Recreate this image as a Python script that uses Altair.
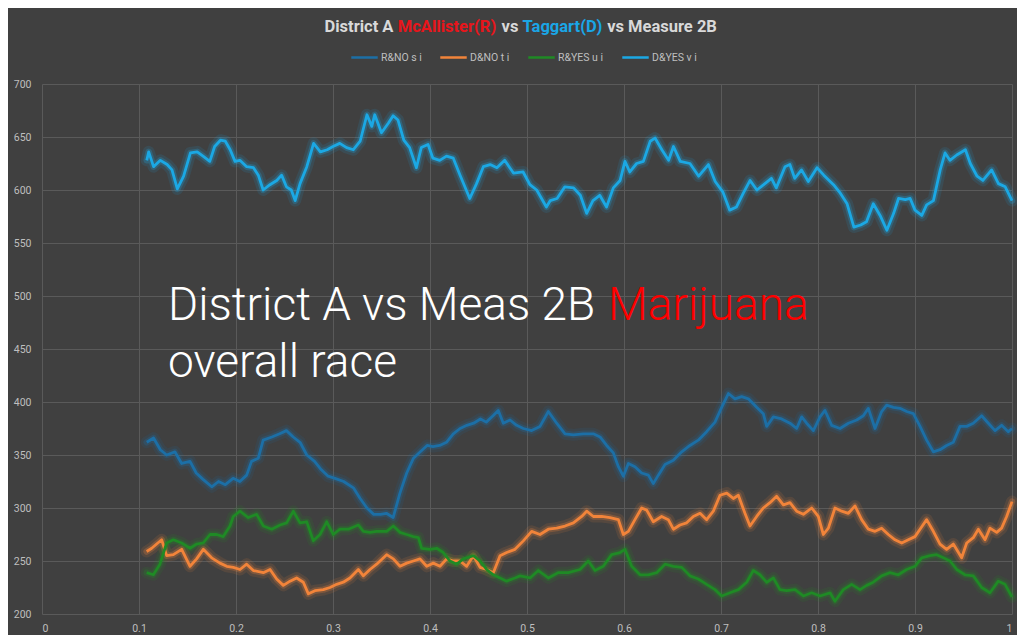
import altair as alt
import pandas as pd

# ---------------- data ----------------
SERIES = ["R&NO s i", "D&NO t i", "R&YES u i", "D&YES v i"]
COLORS = ["#1c6fa6", "#f2843a", "#1f8a25", "#1ba8e4"]

DYES_X = [0.108, 0.110, 0.115, 0.122, 0.129, 0.134, 0.1395, 0.146, 0.153, 0.160, 0.166, 0.173, 0.178, 0.184,
          0.189, 0.194, 0.199, 0.204, 0.211, 0.218, 0.223, 0.228, 0.235, 0.242, 0.247, 0.252, 0.257, 0.261,
          0.266, 0.273, 0.280, 0.287, 0.294, 0.300, 0.307, 0.314, 0.321, 0.328, 0.335, 0.340, 0.343, 0.350,
          0.357, 0.362, 0.367, 0.373, 0.379, 0.386, 0.391, 0.398, 0.403, 0.410, 0.417, 0.424, 0.431, 0.441,
          0.448, 0.455, 0.462, 0.469, 0.477, 0.486, 0.496, 0.503, 0.510, 0.520, 0.524, 0.531, 0.539, 0.548,
          0.555, 0.5615, 0.568, 0.575, 0.582, 0.589, 0.596, 0.601, 0.606, 0.613, 0.620, 0.627, 0.632, 0.639,
          0.646, 0.651, 0.658, 0.668, 0.677, 0.687, 0.694, 0.702, 0.709, 0.716, 0.723, 0.730, 0.737, 0.744,
          0.752, 0.757, 0.766, 0.771, 0.776, 0.783, 0.790, 0.799, 0.806, 0.816, 0.823, 0.830, 0.837, 0.844,
          0.850, 0.857, 0.864, 0.871, 0.878, 0.883, 0.890, 0.895, 0.900, 0.907, 0.912, 0.919, 0.926, 0.931,
          0.936, 0.943, 0.952, 0.957, 0.964, 0.970, 0.979, 0.986, 0.993, 1.0]
DYES_Y = [628, 636, 622, 628, 624, 619, 601, 613, 635, 636, 632, 627, 641, 647,
          646, 638, 627, 628, 622, 621, 614, 600, 605, 609, 614, 603, 600, 590,
          606, 622, 644, 636, 638, 641, 644, 640, 638, 646, 671, 660, 671, 654,
          663, 670, 666, 647, 640, 621, 640, 643, 630, 628, 632, 630, 614, 592,
          606, 622, 624, 621, 628, 616, 617, 605, 600, 584, 590, 592, 603, 602,
          595, 578, 590, 595, 584, 602, 609, 627, 617, 625, 627, 646, 649, 638,
          628, 641, 627, 625, 613, 624, 608, 598, 581, 584, 597, 609, 600, 605,
          611, 602, 622, 624, 611, 619, 608, 621, 614, 605, 597, 587, 565, 567,
          570, 587, 576, 562, 578, 592, 591, 592, 581, 576, 586, 590, 619, 635,
          628, 633, 638, 625, 613, 609, 619, 606, 603, 590]

RNO_X = [0.108, 0.115, 0.122, 0.1285, 0.137, 0.144, 0.1526, 0.159, 0.166, 0.175, 0.182, 0.189, 0.197, 0.204,
         0.211, 0.216, 0.223, 0.228, 0.237, 0.245, 0.252, 0.259, 0.266, 0.273, 0.281, 0.288, 0.295, 0.302,
         0.311, 0.321, 0.328, 0.335, 0.342, 0.349, 0.355, 0.362, 0.369, 0.376, 0.383, 0.390, 0.397, 0.403,
         0.410, 0.417, 0.424, 0.431, 0.438, 0.445, 0.452, 0.458, 0.465, 0.4704, 0.4756, 0.4825, 0.4893, 0.4962,
         0.5048, 0.5134, 0.522, 0.5306, 0.5392, 0.5478, 0.5581, 0.5684, 0.5753, 0.5821, 0.589, 0.5942, 0.5993,
         0.6045, 0.6113, 0.6182, 0.6251, 0.6302, 0.6354, 0.6423, 0.6509, 0.6595, 0.668, 0.6766, 0.6852, 0.6938,
         0.7007, 0.7076, 0.7144, 0.7213, 0.7282, 0.7368, 0.7436, 0.7471, 0.754, 0.7625, 0.7711, 0.778, 0.7832,
         0.7883, 0.7952, 0.8021, 0.8072, 0.8141, 0.8227, 0.8313, 0.8399, 0.8467, 0.8519, 0.8588, 0.8656, 0.8708,
         0.8777, 0.8845, 0.8914, 0.8983, 0.9052, 0.912, 0.9189, 0.9258, 0.9326, 0.9395, 0.9464, 0.9533, 0.9601,
         0.9687, 0.9756, 0.9825, 0.9893, 0.9962, 1.0]
RNO_Y = [362, 366, 355, 350, 353, 342, 344, 333, 327, 320, 325, 322, 328, 325,
         331, 344, 347, 364, 367, 370, 373, 367, 362, 350, 344, 336, 330, 328,
         325, 319, 309, 300, 294, 294, 295, 291, 314, 333, 347, 353, 359, 358,
         359, 362, 370, 375, 378, 380, 384, 381, 387, 392, 380, 383, 378, 375,
         373, 377, 391, 380, 370, 369, 370, 370, 367, 359, 352, 339, 330,
         342, 339, 333, 331, 323, 331, 341, 345, 353, 359, 364, 372, 381,
         395, 408, 403, 405, 403, 395, 389, 377, 386, 384, 380, 375, 386,
         380, 373, 386, 392, 378, 375, 380, 383, 387, 394, 375, 391, 397,
         395, 394, 391, 389, 377, 364, 353, 355, 359, 362, 377, 377, 380,
         387, 380, 373, 378, 372, 375]

DNO_X = [0.1079, 0.1131, 0.1182, 0.1234, 0.1285, 0.1354, 0.144, 0.1526, 0.1594, 0.1663, 0.1749, 0.1835,
         0.1904, 0.1972, 0.2041, 0.211, 0.2179, 0.2282, 0.2351, 0.2419, 0.2488, 0.2557, 0.2625, 0.2694,
         0.2746, 0.2814, 0.29, 0.2969, 0.3038, 0.3106, 0.3175, 0.3261, 0.3313, 0.3381, 0.345, 0.3553,
         0.3622, 0.3691, 0.376, 0.3828, 0.3897, 0.3966, 0.4034, 0.4103, 0.4172, 0.4241, 0.431, 0.4378,
         0.4447, 0.4516, 0.4584, 0.4653, 0.4722, 0.479, 0.4876, 0.4962, 0.5048, 0.5134, 0.522, 0.5306,
         0.5392, 0.5478, 0.5564, 0.5615, 0.5684, 0.577, 0.5856, 0.5942, 0.5993, 0.6045, 0.6113, 0.6182,
         0.6234, 0.6302, 0.6388, 0.6457, 0.6509, 0.6577, 0.6646, 0.6715, 0.6784, 0.6852, 0.6921, 0.699,
         0.7059, 0.7127, 0.7179, 0.7247, 0.7299, 0.7368, 0.7436, 0.7505, 0.7574, 0.7643, 0.7711, 0.778,
         0.7849, 0.7935, 0.8003, 0.8055, 0.8107, 0.8175, 0.8244, 0.8313, 0.8381, 0.845, 0.8519, 0.8588,
         0.8656, 0.8725, 0.8794, 0.8863, 0.8931, 0.9, 0.9052, 0.912, 0.9189, 0.9258, 0.9326, 0.9395,
         0.9481, 0.9533, 0.9601, 0.9653, 0.9722, 0.9773, 0.9842, 0.9893, 0.9945, 1.0]
DNO_Y = [259, 262, 266, 270, 255, 256, 261, 245, 252, 261, 253, 248,
         245, 244, 242, 247, 241, 239, 242, 233, 227, 231, 234, 230,
         219, 222, 223, 225, 228, 230, 234, 242, 236, 242, 247, 256,
         252, 245, 248, 250, 252, 245, 248, 245, 252, 250, 250, 245,
         255, 244, 242, 239, 255, 258, 261, 269, 278, 275, 280, 281,
         283, 286, 292, 297, 292, 292, 291, 289, 275, 278, 289, 300,
         298, 287, 292, 289, 280, 284, 286, 292, 295, 289, 297, 312,
         314, 309, 312, 295, 283, 292, 300, 305, 311, 303, 305, 297,
         294, 300, 292, 275, 281, 300, 297, 295, 302, 289, 280, 278,
         281, 275, 270, 267, 270, 273, 280, 289, 278, 266, 261, 266,
         253, 267, 272, 280, 270, 281, 277, 281, 292, 306]

RYES_X = [0.1079, 0.1148, 0.1216, 0.1285, 0.1354, 0.144, 0.1526, 0.1594, 0.1663, 0.1732, 0.18, 0.1869,
          0.1938, 0.1972, 0.2041, 0.2127, 0.2213, 0.2282, 0.2368, 0.2454, 0.2522, 0.2591, 0.266, 0.2729,
          0.2797, 0.2866, 0.2935, 0.3003, 0.3072, 0.3158, 0.3261, 0.3313, 0.3381, 0.345, 0.3553, 0.3622,
          0.3691, 0.376, 0.3828, 0.388, 0.3914, 0.4, 0.4069, 0.4137, 0.4206, 0.4275, 0.4344, 0.4447,
          0.4516, 0.4584, 0.4653, 0.4722, 0.479, 0.4876, 0.4928, 0.5031, 0.5117, 0.522, 0.532, 0.5426,
          0.5546, 0.5632, 0.5701, 0.5787, 0.5873, 0.5959, 0.601, 0.6079, 0.6165, 0.6251, 0.6337, 0.6423,
          0.6509, 0.6595, 0.668, 0.6766, 0.6852, 0.6938, 0.7007, 0.7093, 0.7179, 0.7265, 0.7333, 0.7402,
          0.7471, 0.754, 0.7608, 0.7677, 0.7763, 0.7849, 0.7935, 0.8021, 0.8124, 0.8175, 0.8261, 0.8347,
          0.8433, 0.8502, 0.857, 0.8656, 0.8742, 0.8828, 0.8914, 0.9, 0.9069, 0.9155, 0.9223, 0.9292,
          0.9361, 0.943, 0.9515, 0.9601, 0.9687, 0.9773, 0.9859, 0.9928, 1.0]
RYES_Y = [239, 237, 247, 267, 270, 267, 262, 266, 267, 275, 275, 273,
          283, 292, 297, 291, 294, 283, 280, 284, 286, 297, 286, 287,
          269, 275, 287, 275, 280, 280, 284, 278, 277, 278, 278, 283,
          277, 275, 273, 272, 262, 261, 262, 258, 250, 247, 252, 255,
          250, 242, 237, 234, 231, 234, 236, 234, 241, 234, 239, 239,
          242, 250, 241, 245, 256, 258, 261, 245, 237, 237, 239, 247,
          245, 244, 236, 233, 228, 223, 217, 220, 223, 230, 241, 237,
          230, 234, 223, 222, 223, 217, 220, 217, 220, 212, 223, 228,
          223, 227, 230, 236, 239, 237, 242, 245, 253, 255, 256, 253,
          250, 242, 237, 236, 225, 220, 231, 228, 216]

X_TICKS = [0, 0.1, 0.2, 0.3, 0.4, 0.5, 0.6, 0.7, 0.8, 0.9, 1.0]
Y_TICKS = [200, 250, 300, 350, 400, 450, 500, 550, 600, 650, 700]

TITLE_PARTS = ["District A", "McAllister(R)", "vs", "Taggart(D)", "vs Measure 2B"]
TITLE_COLORS = ["#d9d9d9", "#e8151b", "#d9d9d9", "#1aa6e6", "#d9d9d9"]
NOTE_LINE1 = "District A vs Meas 2B"
NOTE_RED = "Marijuana"
NOTE_LINE2 = "overall race"

# ---------------- table ----------------
rows = []
for name, xs, ys in [(SERIES[0], RNO_X, RNO_Y), (SERIES[1], DNO_X, DNO_Y),
                     (SERIES[2], RYES_X, RYES_Y), (SERIES[3], DYES_X, DYES_Y)]:
    for i, (xv, yv) in enumerate(zip(xs, ys)):
        rows.append({"series": name, "x": xv, "y": yv, "order": i})
df = pd.DataFrame(rows)

W, H = 970, 530
BG = "#404040"
GRID = "#5a5a5a"
LABEL = "#bfbfbf"

color_enc = alt.Color(
    "series:N",
    scale=alt.Scale(domain=SERIES, range=COLORS),
    sort=SERIES,
    legend=alt.Legend(
        title=None, orient="none", legendX=308, legendY=-41, direction="horizontal",
        symbolType="stroke", symbolStrokeWidth=2.5, symbolSize=700, symbolOpacity=1,
        labelColor=LABEL, labelFontSize=10.5, labelFont="Roboto", columnPadding=13, labelOffset=2,
    ),
)
x_enc = alt.X("x:Q", scale=alt.Scale(domain=[0, 1], nice=False),
              axis=alt.Axis(values=X_TICKS, format=".1~f", title=None, grid=True, gridColor=GRID,
                            domain=False, ticks=False, labelColor=LABEL, labelFontSize=10.5,
                            labelFont="Roboto", labelPadding=9))
y_enc = alt.Y("y:Q", scale=alt.Scale(domain=[200, 700], nice=False, zero=False),
              axis=alt.Axis(values=Y_TICKS, title=None, grid=True, gridColor=GRID,
                            domain=False, ticks=False, labelColor=LABEL, labelFontSize=10.5,
                            labelFont="Roboto", labelPadding=11))

base = alt.Chart(df).encode(x=x_enc, y=y_enc, color=color_enc, order="order:Q", detail="series:N")
glow1 = base.mark_line(strokeWidth=12, opacity=0.12, strokeJoin="round", strokeCap="round")
glow2 = base.mark_line(strokeWidth=6.5, opacity=0.25, strokeJoin="round", strokeCap="round")
main = base.mark_line(strokeWidth=2.8, strokeJoin="round")

# title segments, each centred near where it sits in the reference
title_cx = [317, 405, 468, 520.5, 620]
title_layers = []
for part, col, tx in zip(TITLE_PARTS, TITLE_COLORS, title_cx):
    title_layers.append(
        alt.Chart(pd.DataFrame({"t": [part]})).mark_text(
            align="center", baseline="middle", font="Roboto", fontSize=16.5, fontWeight="bold", color=col
        ).encode(text="t:N", x=alt.value(tx), y=alt.value(-57))
    )

note_font = dict(align="left", baseline="alphabetic", font="Roboto", fontSize=46, fontWeight=300)
note1 = alt.Chart(pd.DataFrame({"t": [NOTE_LINE1]})).mark_text(color="#ffffff", **note_font).encode(
    text="t:N", x=alt.value(126), y=alt.value(236))
note_red = alt.Chart(pd.DataFrame({"t": [NOTE_RED]})).mark_text(color="#ff0000", **note_font).encode(
    text="t:N", x=alt.value(566), y=alt.value(236))
note2 = alt.Chart(pd.DataFrame({"t": [NOTE_LINE2]})).mark_text(color="#ffffff", **note_font).encode(
    text="t:N", x=alt.value(126), y=alt.value(293))

chart = alt.layer(glow1, glow2, main, note1, note_red, note2, *title_layers).properties(
    width=W, height=H, background=BG,
    autosize=alt.AutoSizeParams(type="none"),
    padding={"left": 34, "top": 76, "right": 5, "bottom": 21},
).configure_view(stroke=None)

chart.save("out.html", embed_options={"renderer": "svg", "actions": False})
